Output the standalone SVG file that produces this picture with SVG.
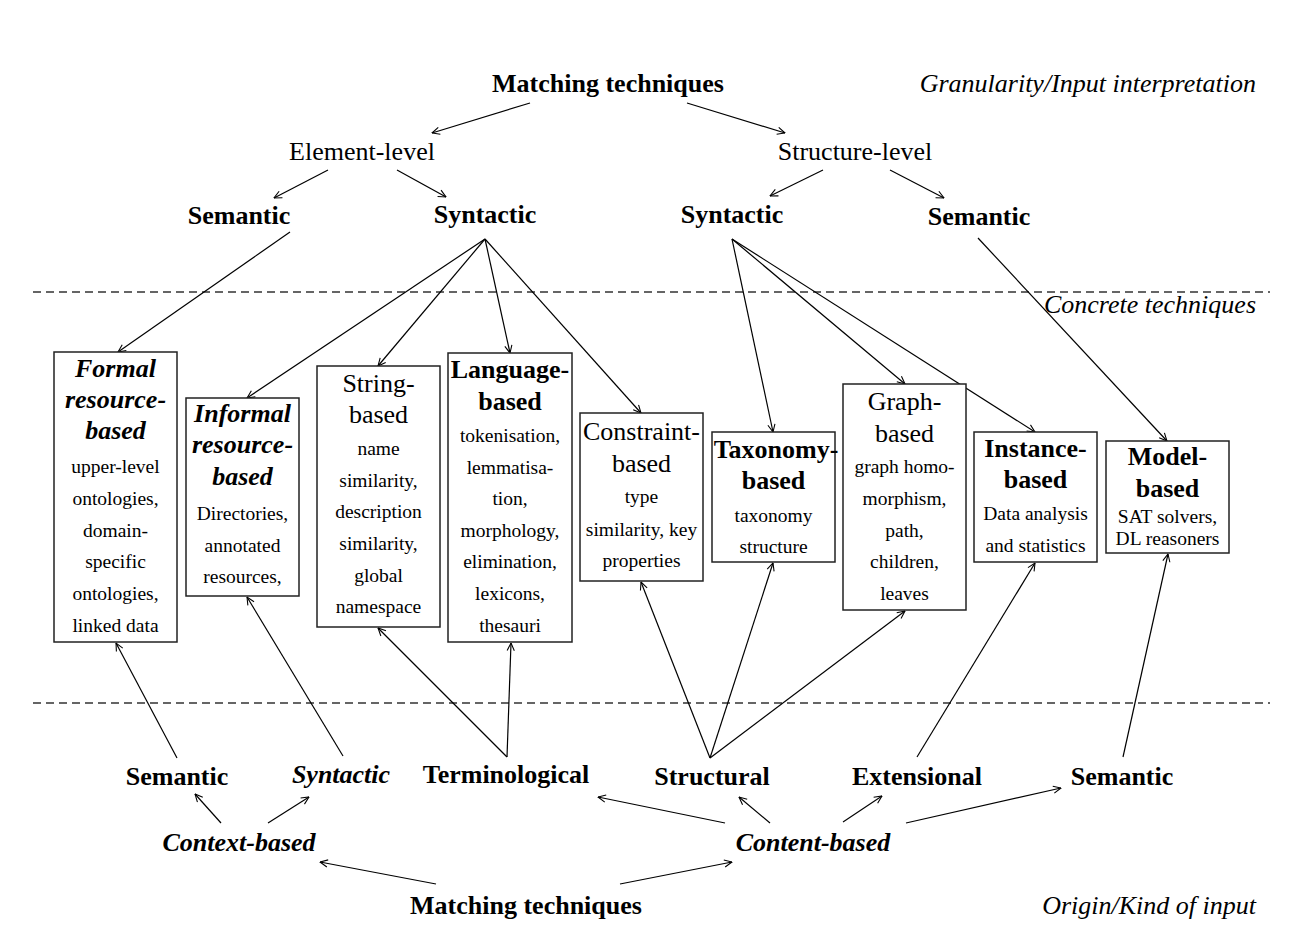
<svg xmlns="http://www.w3.org/2000/svg" width="1312" height="940" viewBox="0 0 1312 940">
<style>
text{font-family:"Liberation Serif","Times New Roman",serif;fill:#000;text-anchor:middle}
.lab{font-size:26px}
.b{font-weight:bold}
.i{font-style:italic}
.body{font-size:19.5px}
.r{text-anchor:end}
.box{fill:#fff;stroke:#222;stroke-width:1.5}
.dash{stroke:#333;stroke-width:1.3;stroke-dasharray:8 5;fill:none}
#edges line{stroke:#000;stroke-width:1.2;fill:none}
.a{marker-end:url(#ah)}
</style>
<defs>
<marker id="ah" viewBox="0 0 10 10" refX="9.5" refY="5" markerWidth="9" markerHeight="9" markerUnits="userSpaceOnUse" orient="auto">
<path d="M1,1 L9.5,5 L1,9" fill="none" stroke="#000" stroke-width="1.2"/>
</marker>
</defs>
<rect width="1312" height="940" fill="#fff"/>

<g id="separators">
<line class="dash" x1="33" y1="292" x2="1270" y2="292"/>
<line class="dash" x1="33" y1="703" x2="1270" y2="703"/>
</g>

<g id="edges">
<line class="a" x1="530" y1="103" x2="432" y2="133"/>
<line class="a" x1="687" y1="103" x2="785" y2="133"/>
<line class="a" x1="328" y1="170" x2="274" y2="198"/>
<line class="a" x1="397" y1="170" x2="446" y2="197"/>
<line class="a" x1="823" y1="170" x2="770" y2="196"/>
<line class="a" x1="890" y1="170" x2="944" y2="198"/>
<line class="a" x1="290" y1="232" x2="118" y2="352"/>
<line class="a" x1="485" y1="239" x2="247" y2="398"/>
<line class="a" x1="485" y1="239" x2="378" y2="366"/>
<line class="a" x1="485" y1="239" x2="510" y2="353"/>
<line class="a" x1="485" y1="239" x2="641" y2="413"/>
<line class="a" x1="732" y1="239" x2="773" y2="432"/>
<line class="a" x1="732" y1="239" x2="905" y2="384"/>
<line class="a" x1="732" y1="239" x2="1035" y2="432"/>
<line class="a" x1="978" y1="238" x2="1167" y2="441"/>
<line class="a" x1="177" y1="758" x2="116" y2="643"/>
<line class="a" x1="343" y1="756" x2="247" y2="597"/>
<line class="a" x1="507" y1="757" x2="378" y2="628"/>
<line class="a" x1="507" y1="757" x2="511" y2="643"/>
<line class="a" x1="710" y1="758" x2="641" y2="582"/>
<line class="a" x1="710" y1="758" x2="773" y2="563"/>
<line class="a" x1="710" y1="758" x2="905" y2="611"/>
<line class="a" x1="917" y1="757" x2="1035" y2="563"/>
<line class="a" x1="1123" y1="757" x2="1168" y2="554"/>
<line class="a" x1="221" y1="823" x2="195" y2="794"/>
<line class="a" x1="268" y1="823" x2="309" y2="797"/>
<line class="a" x1="725" y1="823" x2="598" y2="797"/>
<line class="a" x1="770" y1="823" x2="739" y2="797"/>
<line class="a" x1="843" y1="822" x2="882" y2="796"/>
<line class="a" x1="906" y1="823" x2="1061" y2="788"/>
<line class="a" x1="436" y1="884" x2="320" y2="862"/>
<line class="a" x1="620" y1="884" x2="732" y2="862"/>
</g>

<g id="top-title"><text class="lab b" x="608" y="92">Matching techniques</text></g>
<g id="top-caption"><text class="lab i r" x="1256" y="92">Granularity/Input interpretation</text></g>
<g id="element-level"><text class="lab" x="362" y="160">Element-level</text></g>
<g id="structure-level"><text class="lab" x="855" y="160">Structure-level</text></g>
<g id="el-semantic"><text class="lab b" x="239" y="224">Semantic</text></g>
<g id="el-syntactic"><text class="lab b" x="485" y="223">Syntactic</text></g>
<g id="st-syntactic"><text class="lab b" x="732" y="223">Syntactic</text></g>
<g id="st-semantic"><text class="lab b" x="979" y="225">Semantic</text></g>
<g id="concrete-caption"><text class="lab i r" x="1256" y="313">Concrete techniques</text></g>

<g id="formal">
<rect class="box" x="54" y="352" width="123" height="290"/>
<text class="lab b i" x="115.5" y="377">Formal</text>
<text class="lab b i" x="115.5" y="408">resource-</text>
<text class="lab b i" x="115.5" y="439">based</text>
<text class="body" x="115.5" y="473">upper-level</text>
<text class="body" x="115.5" y="505">ontologies,</text>
<text class="body" x="115.5" y="537">domain-</text>
<text class="body" x="115.5" y="568">specific</text>
<text class="body" x="115.5" y="600">ontologies,</text>
<text class="body" x="115.5" y="632">linked data</text>
</g>

<g id="informal">
<rect class="box" x="186" y="398" width="113" height="198"/>
<text class="lab b i" x="242.5" y="422">Informal</text>
<text class="lab b i" x="242.5" y="453">resource-</text>
<text class="lab b i" x="242.5" y="485">based</text>
<text class="body" x="242.5" y="520">Directories,</text>
<text class="body" x="242.5" y="552">annotated</text>
<text class="body" x="242.5" y="583">resources,</text>
</g>

<g id="string">
<rect class="box" x="317" y="366" width="123" height="261"/>
<text class="lab" x="378.5" y="392">String-</text>
<text class="lab" x="378.5" y="423">based</text>
<text class="body" x="378.5" y="455">name</text>
<text class="body" x="378.5" y="487">similarity,</text>
<text class="body" x="378.5" y="518">description</text>
<text class="body" x="378.5" y="550">similarity,</text>
<text class="body" x="378.5" y="582">global</text>
<text class="body" x="378.5" y="613">namespace</text>
</g>

<g id="language">
<rect class="box" x="448" y="353" width="124" height="289"/>
<text class="lab b" x="510" y="378">Language-</text>
<text class="lab b" x="510" y="410">based</text>
<text class="body" x="510" y="442">tokenisation,</text>
<text class="body" x="510" y="474">lemmatisa-</text>
<text class="body" x="510" y="505">tion,</text>
<text class="body" x="510" y="537">morphology,</text>
<text class="body" x="510" y="568">elimination,</text>
<text class="body" x="510" y="600">lexicons,</text>
<text class="body" x="510" y="632">thesauri</text>
</g>

<g id="constraint">
<rect class="box" x="580" y="413" width="123" height="168"/>
<text class="lab" x="641.5" y="440">Constraint-</text>
<text class="lab" x="641.5" y="472">based</text>
<text class="body" x="641.5" y="503">type</text>
<text class="body" x="641.5" y="536">similarity, key</text>
<text class="body" x="641.5" y="567">properties</text>
</g>

<g id="taxonomy">
<rect class="box" x="712" y="432" width="123" height="130"/>
<text class="lab b" x="776" y="458">Taxonomy-</text>
<text class="lab b" x="773.5" y="489">based</text>
<text class="body" x="773.5" y="522">taxonomy</text>
<text class="body" x="773.5" y="553">structure</text>
</g>

<g id="graph">
<rect class="box" x="843" y="384" width="123" height="226"/>
<text class="lab" x="904.5" y="410">Graph-</text>
<text class="lab" x="904.5" y="442">based</text>
<text class="body" x="904.5" y="473">graph homo-</text>
<text class="body" x="904.5" y="505">morphism,</text>
<text class="body" x="904.5" y="537">path,</text>
<text class="body" x="904.5" y="568">children,</text>
<text class="body" x="904.5" y="600">leaves</text>
</g>

<g id="instance">
<rect class="box" x="974" y="432" width="123" height="130"/>
<text class="lab b" x="1035.5" y="457">Instance-</text>
<text class="lab b" x="1035.5" y="488">based</text>
<text class="body" x="1035.5" y="520">Data analysis</text>
<text class="body" x="1035.5" y="552">and statistics</text>
</g>

<g id="model">
<rect class="box" x="1106" y="441" width="123" height="112"/>
<text class="lab b" x="1167.5" y="465">Model-</text>
<text class="lab b" x="1167.5" y="497">based</text>
<text class="body" x="1167.5" y="523">SAT solvers,</text>
<text class="body" x="1167.5" y="545">DL reasoners</text>
</g>

<g id="bt-semantic"><text class="lab b" x="177" y="785">Semantic</text></g>
<g id="bt-syntactic"><text class="lab b i" x="341" y="783">Syntactic</text></g>
<g id="bt-terminological"><text class="lab b" x="506" y="783">Terminological</text></g>
<g id="bt-structural"><text class="lab b" x="712" y="785">Structural</text></g>
<g id="bt-extensional"><text class="lab b" x="917" y="785">Extensional</text></g>
<g id="bt-semantic2"><text class="lab b" x="1122" y="785">Semantic</text></g>
<g id="context-based"><text class="lab b i" x="239" y="851">Context-based</text></g>
<g id="content-based"><text class="lab b i" x="813" y="851">Content-based</text></g>
<g id="bottom-title"><text class="lab b" x="526" y="914">Matching techniques</text></g>
<g id="bottom-caption"><text class="lab i r" x="1256" y="914">Origin/Kind of input</text></g>
</svg>
